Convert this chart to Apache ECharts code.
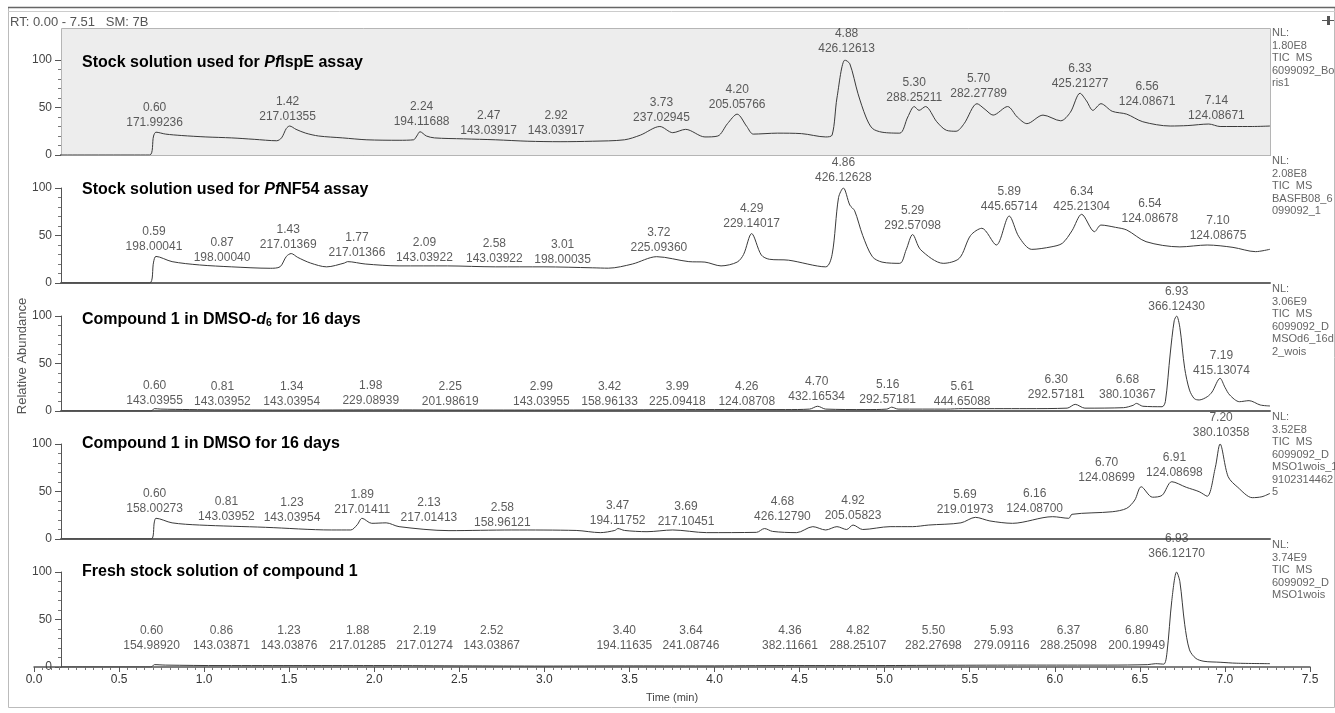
<!DOCTYPE html>
<html><head><meta charset="utf-8">
<script src="https://cdn.jsdelivr.net/npm/echarts@6/dist/echarts.min.js"></script>
<style>html,body{margin:0;padding:0;background:#fff}#c{width:1335px;height:713px}</style>
</head><body><div id="c"></div>
<script>
// ---------- DATA ----------
const trace1 = [[0,0],[0.55,0],[0.575,20],[0.59,24],[0.65,22],[0.75,20.5],[0.9,19],[1.06,18],[1.2,16.5],[1.34,15],[1.37,18],[1.40,28],[1.42,30.5],[1.46,27],[1.52,23],[1.6,20],[1.75,18],[1.9,16],[2.1,15.5],[2.19,16],[2.21,20],[2.23,24.5],[2.27,20],[2.32,18],[2.5,17],[2.7,16],[2.9,14.5],[3.1,14],[3.3,14.5],[3.5,16],[3.6,21],[3.72,30],[3.8,23.5],[3.88,27],[4.0,19],[4.08,20],[4.14,33],[4.20,43],[4.26,30],[4.3,22],[4.45,23],[4.6,22.5],[4.75,19],[4.79,21],[4.82,60],[4.87,100],[4.9,96],[4.95,65],[5.00,40],[5.04,28],[5.10,24],[5.21,23],[5.26,40],[5.30,51],[5.33,47],[5.37,51],[5.44,35],[5.50,26],[5.56,25],[5.61,33],[5.69,54],[5.74,48],[5.79,42],[5.88,51],[5.94,40],[6.00,33],[6.10,42],[6.21,36],[6.27,45],[6.33,65],[6.37,57],[6.41,47],[6.46,54],[6.53,46],[6.62,43],[6.72,35],[6.89,30.5],[7.0,31],[7.13,32.6],[7.2,30],[7.28,30],[7.4,30],[7.51,30.5]];
const trace2 = [[0,0],[0.55,0],[0.575,22],[0.59,28],[0.69,22.5],[0.86,19],[1.06,17],[1.3,15.5],[1.36,17],[1.40,28],[1.43,31],[1.47,27],[1.55,21],[1.65,17],[1.76,21],[1.78,22.5],[1.89,20],[2.1,18],[2.4,18],[2.7,17],[3.0,17],[3.3,16],[3.4,15.6],[3.55,20],[3.70,27.7],[3.9,22.5],[4.0,22],[4.1,18],[4.2,22],[4.24,30],[4.29,52],[4.35,29.5],[4.4,25],[4.52,24],[4.75,17],[4.79,30],[4.83,90],[4.86,100],[4.9,82],[4.93,76],[4.98,50],[5.04,27.7],[5.1,22],[5.21,20.7],[5.25,35],[5.29,51],[5.34,35],[5.48,20.7],[5.58,26],[5.65,50],[5.72,57.6],[5.81,40],[5.89,70.5],[5.95,48.7],[6.03,35.4],[6.15,38],[6.22,41.8],[6.28,55],[6.34,72.3],[6.42,54],[6.46,61],[6.55,58.6],[6.62,55.8],[6.74,43.5],[6.95,38],[7.12,40],[7.28,37.5],[7.42,33],[7.51,35.5]];
const trace3 = [[0,0],[0.56,0],[0.58,2.5],[0.62,2],[0.8,1.5],[1.0,1.2],[1.5,1],[2.0,1.2],[2.5,1],[3.0,1],[3.5,1.2],[4.0,1.5],[4.5,1.5],[4.65,2],[4.70,5],[4.75,2],[5.0,1.5],[5.13,2],[5.16,4],[5.2,2],[5.5,2],[5.6,2.5],[6.0,2.5],[6.25,3],[6.30,7],[6.36,3],[6.6,3.5],[6.66,6],[6.68,8],[6.72,5],[6.84,4.5],[6.86,10],[6.89,60],[6.915,95],[6.93,100],[6.95,88],[6.98,45],[7.01,22],[7.04,13],[7.07,11.6],[7.12,15],[7.15,20],[7.20,34.4],[7.23,25],[7.26,16.8],[7.32,9.8],[7.38,10.9],[7.45,6.3],[7.51,5.3]];
const trace4 = [[0,0],[0.56,0],[0.58,18],[0.59,21.8],[0.69,17],[0.86,14.7],[1.27,12.3],[1.68,9.5],[1.80,9.5],[1.84,15],[1.87,21.8],[1.93,16.5],[2.02,17],[2.10,13],[2.41,8.8],[2.8,9.5],[3.2,9],[3.35,6.7],[3.44,9],[3.46,11],[3.5,9],[3.64,7.7],[3.80,9.5],[4.01,6.7],[4.32,7],[4.37,11],[4.42,8],[4.57,6.7],[4.67,13],[4.75,9.5],[4.82,13],[4.88,10],[4.92,14.7],[4.98,10],[5.15,13],[5.29,13],[5.39,14.7],[5.59,17],[5.68,22.8],[5.77,19],[5.91,16.5],[6.16,23.5],[6.26,21.8],[6.28,26],[6.53,28.7],[6.62,32.3],[6.67,41],[6.71,55],[6.78,44],[6.84,46],[6.90,60.3],[6.99,54.4],[7.07,49.8],[7.12,45],[7.17,75],[7.20,100],[7.25,65.6],[7.31,54.4],[7.40,43.5],[7.46,44.5],[7.51,48]];
const trace5 = [[0,0],[0.56,0],[0.58,2.5],[0.65,2],[1.0,1.5],[1.5,1.5],[2.0,1.5],[2.5,1.2],[3.0,1],[3.5,1.2],[4.0,1.2],[4.5,1.5],[5.0,1.5],[5.5,1.8],[6.0,2],[6.5,2],[6.75,2.5],[6.80,3.5],[6.85,3],[6.87,15],[6.90,70],[6.93,100],[6.95,90],[6.98,45],[7.01,18],[7.05,9],[7.1,6],[7.2,5],[7.3,4],[7.51,3.5]];

const peaks1 = [[0.60,'171.99236'],[1.42,'217.01355'],[2.24,'194.11688'],[2.47,'143.03917'],[2.92,'143.03917'],[3.73,'237.02945'],[4.20,'205.05766'],[4.88,'426.12613'],[5.30,'288.25211'],[5.70,'282.27789'],[6.33,'425.21277'],[6.56,'124.08671'],[7.14,'124.08671']];
const peaks2 = [[0.59,'198.00041'],[0.87,'198.00040'],[1.43,'217.01369'],[1.77,'217.01366'],[2.09,'143.03922'],[2.58,'143.03922'],[3.01,'198.00035'],[3.72,'225.09360'],[4.29,'229.14017'],[4.86,'426.12628'],[5.29,'292.57098'],[5.89,'445.65714'],[6.34,'425.21304'],[6.54,'124.08678'],[7.10,'124.08675']];
const peaks3 = [[0.60,'143.03955'],[0.81,'143.03952'],[1.34,'143.03954'],[1.98,'229.08939'],[2.25,'201.98619'],[2.99,'143.03955'],[3.42,'158.96133'],[3.99,'225.09418'],[4.26,'124.08708'],[4.70,'432.16534'],[5.16,'292.57181'],[5.61,'444.65088'],[6.30,'292.57181'],[6.68,'380.10367'],[6.93,'366.12430'],[7.19,'415.13074']];
const peaks4 = [[0.60,'158.00273'],[0.81,'143.03952'],[1.23,'143.03954'],[1.89,'217.01411'],[2.13,'217.01413'],[2.58,'158.96121'],[3.47,'194.11752'],[3.69,'217.10451'],[4.68,'426.12790'],[4.92,'205.05823'],[5.69,'219.01973'],[6.16,'124.08700'],[6.70,'124.08699'],[6.91,'124.08698'],[7.20,'380.10358']];
const peaks5 = [[0.60,'154.98920'],[0.86,'143.03871'],[1.23,'143.03876'],[1.88,'217.01285'],[2.19,'217.01274'],[2.52,'143.03867'],[3.40,'194.11635'],[3.64,'241.08746'],[4.36,'382.11661'],[4.82,'288.25107'],[5.50,'282.27698'],[5.93,'279.09116'],[6.37,'288.25098'],[6.80,'200.19949'],[6.93,'366.12170']];

const panelTitles = [
  '{b|Stock solution used for }{bi|Pf}{b|IspE assay}',
  '{b|Stock solution used for }{bi|Pf}{b|NF54 assay}',
  '{b|Compound 1 in DMSO-}{bi|d}{sub|6}{b| for 16 days}',
  '{b|Compound 1 in DMSO for 16 days}',
  '{b|Fresh stock solution of compound 1}'
];
const nlLabels = [
  'NL:\n1.80E8\nTIC  MS\n6099092_Bo\nris1',
  'NL:\n2.08E8\nTIC  MS\nBASFB08_6\n099092_1',
  'NL:\n3.06E9\nTIC  MS\n6099092_D\nMSOd6_16d\n2_wois',
  'NL:\n3.52E8\nTIC  MS\n6099092_D\nMSO1wois_1\n9102314462\n5',
  'NL:\n3.74E9\nTIC  MS\n6099092_D\nMSO1wois'
];
const headerText = 'RT: 0.00 - 7.51   SM: 7B';
const yTicks = [0, 50, 100];
const xAxisName = 'Time (min)';
const yAxisName = 'Relative Abundance';

// ---------- LAYOUT (pixel offsets of peak labels, not data) ----------
const labelOffsets = [
  [[-3,-25],[-2,-31],[0,-26],[30,-17],[25,-17],[0,-30],[0,-43],[0,-99],[0,-50],[0,-54],[0,-64],[30,-46],[6,-32]],
  [[-2,-29],[21,-18],[-3,-31],[11,-23],[27,-18],[18,-17],[17,-16],[-1,-28],[0,-52],[0,-98],[0,-50],[0,-69],[0,-69],[36,-57],[14,-40]],
  [[-3,-3],[31,-2],[15,-2],[-9,-3],[27,-2],[-1,-2],[-2,-2],[-26,-2],[0,-2],[-1,-7],[-4,-4],[-2,-2],[-19,-9],[-9,-9],[0,-97],[3,-33]],
  [[-3,-23],[35,-15],[33,-14],[-3,-22],[25,-14],[26,-9],[-2,-11],[31,-10],[-32,-15],[0,-16],[-12,-22],[-18,-23],[-33,-54],[1,-59],[1,-99]],
  [[-6,-14],[22,-14],[30,-14],[-6,-14],[11,-14],[25,-14],[16,-14],[44,-14],[27,-14],[21,-14],[-13,-14],[-14,-14],[-18,-14],[-19,-14],[0,-106]]
];

const traces = [trace1, trace2, trace3, trace4, trace5];
const peaks = [peaks1, peaks2, peaks3, peaks4, peaks5];
const FONT = "'Liberation Sans', Arial, sans-serif";
const zeros = [155, 283, 411, 539, 667];
const titleY = [63, 190, 320, 444, 572];
const PH = 95, LEFT = 61, RIGHT_X = 1270;

const grid = [], xAxis = [], yAxis = [], series = [], graphic = [];

// frame
graphic.push({type:'rect', z:0, shape:{x:8.5, y:7.5, width:1326, height:700}, style:{fill:'#fff', stroke:'#bbb', lineWidth:1}});
graphic.push({type:'line', z:1, shape:{x1:8, y1:7.5, x2:1335, y2:7.5}, style:{stroke:'#666', lineWidth:1.5}});
graphic.push({type:'line', z:1, shape:{x1:8, y1:11.5, x2:1335, y2:11.5}, style:{stroke:'#ccc', lineWidth:1}});
// panel-1 grey box
graphic.push({type:'rect', z:1, shape:{x:LEFT+0.5, y:28.5, width:RIGHT_X-LEFT, height:zeros[0]-28}, style:{fill:'#ededed', stroke:'#b5b5b5', lineWidth:1}});
// pin icon
graphic.push({type:'line', z:1, shape:{x1:1322, y1:20.5, x2:1334, y2:20.5}, style:{stroke:'#555', lineWidth:1}});
graphic.push({type:'rect', z:1, shape:{x:1327, y:16, width:3, height:9}, style:{fill:'#555'}});
graphic.push({type:'text', z:2, x:10, y:22, style:{text:headerText, font:'13px '+FONT, fill:'#555', verticalAlign:'middle'}});
graphic.push({type:'text', z:2, x:22, y:356, rotation:Math.PI/2, style:{text:yAxisName, font:'13px '+FONT, fill:'#555', align:'center', verticalAlign:'middle'}});

for (let i = 0; i < 5; i++) {
  grid.push({left: LEFT, right: 1335 - RIGHT_X, top: zeros[i] - PH, height: PH});
  xAxis.push({gridIndex:i, type:'value', min:0, max:7.51,
    axisLine:{show: i < 4, onZero:false, lineStyle:{color:'#666', width:2}},
    axisTick:{show:false}, axisLabel:{show:false}, splitLine:{show:false}});
  yAxis.push({gridIndex:i, type:'value', min:yTicks[0], max:yTicks[2], interval:yTicks[1]-yTicks[0],
    axisLine:{show:true, lineStyle:{color:'#555', width:1}},
    axisTick:{show:true, length:6, lineStyle:{color:'#555'}},
    minorTick:{show:true, splitNumber:5, length:3, lineStyle:{color:'#777'}},
    axisLabel:{color:'#444', fontSize:12, fontFamily:FONT, margin:9},
    splitLine:{show:false}});
  series.push({type:'line', xAxisIndex:i, yAxisIndex:i, data:traces[i], symbol:'none', smooth:0.3,
    silent:true, lineStyle:{color:'#3a3a3a', width:1}, z:3});
  series.push({type:'scatter', xAxisIndex:i, yAxisIndex:i, silent:true, symbolSize:1,
    itemStyle:{color:'rgba(0,0,0,0)'}, z:4,
    data: peaks[i].map((p, j) => ({value:[p[0], 0], name:p[1], label:{offset: labelOffsets[i][j]}})),
    label:{show:true, position:'top', distance:0, color:'#333', fontSize:12, lineHeight:14.5,
      fontFamily:FONT, align:'center',
      formatter: p => p.value[0].toFixed(2) + '\n' + p.name}});
  graphic.push({type:'text', z:5, x:82, y:titleY[i], style:{text:panelTitles[i], verticalAlign:'middle',
    rich:{
      b:{fontSize:16, fontWeight:'bold', fontFamily:FONT, fill:'#000'},
      bi:{fontSize:16, fontWeight:'bold', fontStyle:'italic', fontFamily:FONT, fill:'#000'},
      sub:{fontSize:10.5, fontWeight:'bold', fontFamily:FONT, fill:'#000', verticalAlign:'bottom', padding:[6,0,0,0]}
    }}});
  graphic.push({type:'text', z:5, x:1272, y:zeros[i] - 127 - 1, style:{text:nlLabels[i], font:'11px '+FONT,
    fill:'#666', lineHeight:12.5, verticalAlign:'top'}});
}
// bottom time axis
grid.push({left:34, right:25, top:666, height:1});
xAxis.push({gridIndex:5, type:'value', min:0, max:7.5, interval:0.5,
  axisLine:{show:true, onZero:false, lineStyle:{color:'#555', width:1.5}},
  axisTick:{show:true, length:5, lineStyle:{color:'#555'}},
  minorTick:{show:true, splitNumber:10, length:3, lineStyle:{color:'#777'}},
  axisLabel:{color:'#333', fontSize:12, fontFamily:FONT, margin:7, formatter: v => v.toFixed(1)},
  splitLine:{show:false},
  name:xAxisName, nameLocation:'middle', nameGap:25,
  nameTextStyle:{color:'#444', fontSize:11, fontFamily:FONT}});
yAxis.push({gridIndex:5, type:'value', min:0, max:1, show:false});

const chart = echarts.init(document.getElementById('c'), null, {renderer:'canvas'});
chart.setOption({animation:false, backgroundColor:'#fff', grid, xAxis, yAxis, series, graphic});
</script></body></html>
